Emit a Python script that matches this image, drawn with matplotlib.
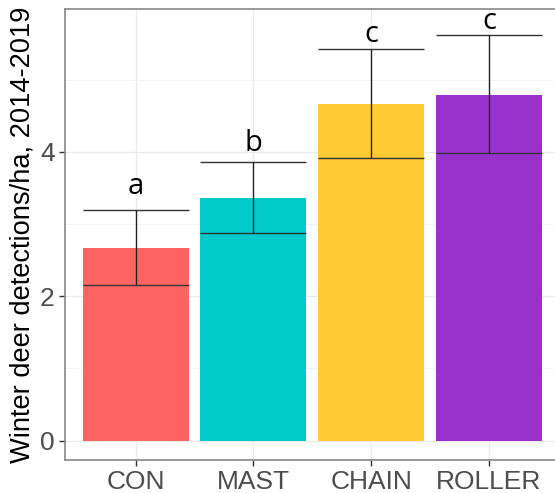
import matplotlib
import matplotlib.pyplot as plt

matplotlib.use("Agg")

treatments = ["CON", "MAST", "CHAIN", "ROLLER"]
means = [2.67, 3.36, 4.66, 4.79]
ci_low = [2.16, 2.87, 3.91, 3.99]
ci_high = [3.19, 3.86, 5.42, 5.62]
letters = ["a", "b", "c", "c"]
letter_y = [3.52, 4.12, 5.63, 5.80]
colors = ["#FE6462", "#00CBCA", "#FFCA33", "#9932CC"]


def main():
    """
    Description: Bar chart of winter deer detections per treatment.
    """
    plt.rcParams["font.family"] = ["Liberation Sans", "DejaVu Sans"]
    fig = plt.figure(figsize=(5.55, 4.93), dpi=100)
    ax = fig.add_axes([65 / 555, 33 / 493, (559.6 - 65) / 555, 451 / 493])
    xs = list(range(1, len(treatments) + 1))

    ax.bar(xs, means, width=0.9, color=colors, zorder=2)
    for x, lo, hi in zip(xs, ci_low, ci_high):
        ax.hlines([lo, hi], x - 0.45, x + 0.45, color="#333333",
                  linewidth=1.0, zorder=3)
        ax.vlines(x, lo, hi, color="#222222", linewidth=1.0, zorder=3)
    for x, lab, y in zip(xs, letters, letter_y):
        ax.text(x, y, lab, ha="center", va="center", fontsize=21,
                family=["Open Sans", "DejaVu Sans"], color="black", zorder=4)

    ax.set_xlim(0.4, 4.6)
    ax.set_ylim(-0.27, 5.98)
    ax.set_xticks(xs)
    ax.set_xticklabels(treatments)
    ax.set_yticks([0, 2, 4])
    ax.set_yticks([1, 3, 5], minor=True)
    ax.grid(which="major", color="#EBEBEB", linewidth=1.0, zorder=0)
    ax.grid(which="minor", axis="y", color="#F3F3F3", linewidth=0.6,
            zorder=0)
    ax.tick_params(which="major", labelsize=19, colors="#4D4D4D",
                   length=4, width=1.0, color="#333333")
    ax.tick_params(which="minor", length=0)
    for sp in ax.spines.values():
        sp.set_color("#888888")
        sp.set_linewidth(1.2)
    ax.set_ylabel("Winter deer detections/ha, 2014-2019", fontsize=19.6,
                  color="black", labelpad=3)
    fig.savefig("out.png", dpi=100)
    return 0


if __name__ == "__main__":
    main()
